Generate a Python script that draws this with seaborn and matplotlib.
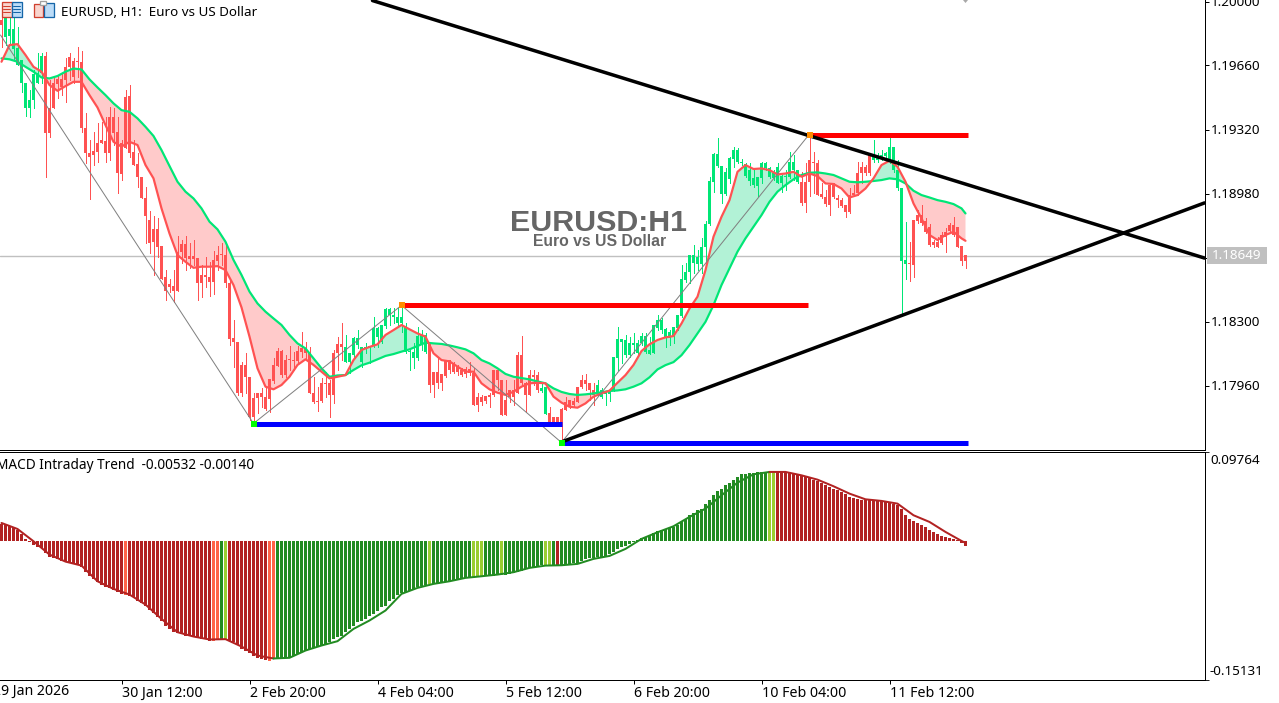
import numpy as np
import matplotlib
matplotlib.use("Agg")
import matplotlib.pyplot as plt
from matplotlib.patches import Rectangle, Polygon
import seaborn as sns

# ---------- data (price readings in points, 1 point = 0.00001) ----------
opens = [119898,119907,119849,119849,119747,119685,119560,119472,119610,119614,
119706,119706,119427,119560,119582,119582,119649,119699,119681,119676,
119676,119320,119187,119200,119244,119258,119253,119383,119383,119303,
119240,119489,119493,119196,119130,119063,118947,118832,118784,118784,
118693,118530,118491,118480,118663,118704,118704,118640,118640,118628,
118539,118539,118530,118619,118645,118651,118645,118494,118201,118183,
118059,118059,117996,117881,117907,117907,117890,117982,118059,118135,
118135,118085,118089,118085,118135,118147,118147,118121,117911,117867,
117961,117961,117961,118124,118169,118169,118156,118124,118201,118201,
118156,118153,118156,118254,118254,118272,118355,118355,118325,118316,
118313,118259,118133,118130,118213,118219,118219,118174,118023,118023,
118011,118085,118085,118064,118050,118032,118036,118036,118014,117886,
117886,117893,117899,118032,118032,117979,117872,117925,117925,118112,
118112,117961,118005,118005,118005,117934,117939,117801,117783,117783,
117822,117863,117872,117868,117943,117979,117979,117961,117925,117952,
117925,117916,117916,118103,118195,118195,118192,118174,118178,118174,
118213,118213,118139,118272,118299,118298,118248,118236,118263,118325,
118515,118556,118645,118645,118636,118689,118810,119041,119184,119184,
119120,119089,119160,119205,119205,119143,119130,119098,119054,119059,
119134,119134,119107,119080,119116,119066,119066,119143,119143,119098,
119036,119036,119152,119137,119137,118970,118956,119018,119018,118947,
118938,118912,118965,118974,119080,119112,119112,119178,119173,119160,
119178,119187,119219,119219,119098,119000,118618,118600,118832,118858,
118858,118828,118796,118716,118716,118752,118769,118805,118805,118792,118693,118645]
closes = [119872,119809,119813,119742,119658,119560,119427,119427,119472,119564,
119614,119294,119294,119427,119557,119543,119578,119649,119592,119674,
119320,119187,119169,119178,119196,119244,119187,119187,119294,119080,
119077,119214,119191,119125,119063,118947,118853,118711,118716,118690,
118516,118455,118476,118455,118455,118663,118628,118626,118622,118498,
118498,118530,118503,118501,118615,118645,118494,118195,118183,117911,
117907,117993,117783,117783,117881,117890,117822,117875,117975,118053,
118005,118005,118085,118080,118082,118130,118121,117911,117863,117863,
117867,117955,117899,117899,118124,118156,118076,118076,118112,118165,
118076,118142,118153,118160,118210,118183,118267,118325,118316,118281,
118281,118130,118130,118094,118094,118165,118130,117952,117952,117961,
117964,118000,118032,118023,118023,118005,118011,118014,117845,117845,
117863,117868,117890,117899,117979,117792,117792,117890,117890,117907,
117961,117899,117899,117993,117925,117922,117797,117756,117756,117756,
117756,117819,117836,117845,117863,117939,117957,117925,117899,117907,
117890,117904,117904,117922,118094,118183,118112,118112,118165,118121,
118174,118130,118117,118121,118254,118245,118209,118200,118209,118254,
118320,118512,118556,118600,118597,118597,118689,118810,119036,119120,
118970,118970,119048,119155,119143,119134,119066,119041,119018,119013,
119054,119107,119063,119054,119031,119031,119059,119063,119098,119036,
118920,118920,119036,119134,118965,118953,118917,118912,118953,118938,
118906,118876,118876,118965,118974,119080,119080,119080,119152,119152,
119166,119173,119143,119098,119000,118615,118597,118597,118592,118828,
118814,118769,118698,118698,118689,118707,118743,118775,118752,118689,118615,118615]
highs = [119916,119907,119907,119907,119863,119685,119560,119525,119632,119721,
119721,119729,119578,119587,119605,119614,119694,119724,119694,119753,
119735,119400,119258,119303,119347,119356,119383,119436,119427,119383,
119258,119525,119552,119258,119187,119063,119009,118882,118853,118841,
118693,118565,118516,118565,118747,118725,118747,118711,118725,118628,
118592,118633,118610,118668,118693,118711,118708,118512,118299,118183,
118076,118121,117996,117911,117911,117934,117934,117982,118094,118147,
118139,118112,118160,118130,118160,118236,118183,118156,117996,117943,
117987,118023,117979,118139,118210,118281,118219,118124,118210,118245,
118156,118174,118156,118316,118263,118272,118361,118361,118361,118361,
118370,118281,118139,118174,118263,118245,118227,118174,118023,118094,
118011,118085,118085,118076,118059,118041,118050,118076,118041,117907,
117899,117893,117907,118032,118032,117979,117979,117925,117979,118130,
118213,117970,118032,118032,118023,117970,117939,117836,117783,117783,
117827,117890,117872,117881,117943,118005,118011,117964,117961,117979,
117934,117916,117916,118103,118259,118195,118219,118210,118227,118192,
118227,118227,118210,118272,118325,118307,118254,118245,118263,118325,
118592,118600,118645,118698,118671,118734,118828,119063,119187,119267,
119120,119107,119169,119223,119214,119155,119134,119134,119098,119063,
119143,119143,119116,119098,119134,119072,119098,119196,119178,119098,
119089,119137,119285,119196,119152,119027,118992,119027,119027,118965,
118947,118912,119000,119018,119143,119143,119125,119187,119258,119187,
119205,119196,119276,119219,119152,119000,118823,118716,118832,118885,
118912,118840,118810,118725,118743,118769,118787,118814,118849,118792,118693,118645]
lows = [119756,119765,119765,119689,119658,119516,119386,119379,119427,119560,
119560,119063,119272,119427,119480,119498,119463,119578,119560,119596,
119303,119137,118942,119125,119143,119240,119143,119152,119232,118977,
119045,119214,119169,119125,119009,118947,118708,118654,118539,118636,
118516,118405,118450,118396,118455,118601,118565,118574,118592,118405,
118423,118476,118427,118437,118565,118592,118473,118165,118046,117899,
117893,117907,117765,117765,117801,117836,117819,117810,117961,118053,
117996,117996,118032,118032,118067,118103,118094,117911,117858,117815,
117863,117890,117783,117854,118032,118085,118076,118014,118103,118147,
118050,118121,118067,118156,118156,118174,118254,118272,118281,118263,
118236,118121,118032,118041,118085,118139,118121,117916,117890,117934,
117925,117996,118014,118014,118005,118000,117996,118005,117845,117815,
117845,117854,117833,117893,117925,117792,117792,117863,117845,117907,
117952,117810,117899,117952,117916,117916,117797,117756,117756,117756,
117641,117819,117827,117836,117863,117934,117925,117872,117845,117899,
117881,117845,117868,117922,118032,118067,118103,118103,118121,118112,
118165,118121,118117,118121,118245,118227,118156,118165,118174,118245,
118316,118503,118494,118547,118565,118547,118592,118805,118983,119116,
118920,118965,119027,119116,119134,119125,119063,119018,119009,118960,
119027,119098,119054,119045,119027,118983,118992,119054,119045,119027,
118912,118876,118960,118974,118965,118947,118906,118858,118947,118903,
118899,118849,118867,118965,118965,119027,119072,119072,119143,119143,
119152,119143,119134,119089,118992,118325,118515,118508,118529,118814,
118805,118760,118693,118689,118686,118704,118663,118769,118746,118689,118592,118577]

# moving averages, read every second bar
ma_bars = list(range(0, 241, 2)) + [241]
fast_ma = [119676,119765,119770,119712,119649,119623,119552,119521,119546,119569,
119569,119498,119432,119338,119249,119223,119249,119232,119125,119054,
118894,118760,118645,118609,118577,118583,118583,118586,118565,118485,
118366,118210,118041,117943,117929,117952,117996,118059,118089,118059,
118023,117987,117996,118005,118085,118139,118155,118169,118219,118245,
118272,118249,118227,118210,118121,118085,118078,118050,118023,118023,
117961,117929,117911,117899,117916,117943,117961,117964,117961,117890,
117858,117836,117831,117854,117890,117907,117922,117964,118005,118059,
118133,118169,118192,118206,118213,118280,118360,118423,118565,118743,
118849,118938,119089,119125,119104,119107,119098,119075,119080,119089,
119063,119080,119066,119027,119024,119000,118952,118965,119000,119054,
119125,119148,119116,119036,118920,118840,118752,118725,118752,118769,
118734,118721]
slow_ma = [119694,119689,119676,119649,119623,119592,119587,119600,119623,119640,
119635,119582,119539,119498,119454,119418,119409,119374,119329,119280,
119205,119120,119036,118983,118947,118894,118823,118782,118716,118619,
118539,118450,118387,118343,118307,118272,118219,118174,118147,118094,
118041,117996,118003,118005,118032,118057,118071,118089,118107,118117,
118130,118142,118160,118178,118174,118171,118163,118153,118142,118121,
118085,118067,118041,118011,117996,117989,117982,117971,117961,117934,
117915,117904,117899,117902,117907,117913,117920,117923,117929,117943,
117961,117993,118035,118058,118074,118111,118165,118227,118289,118378,
118485,118574,118663,118734,118796,118858,118929,118983,119018,119049,
119072,119084,119086,119080,119072,119054,119036,119033,119036,119040,
119045,119054,119049,119027,118988,118965,118952,118938,118929,118917,
118894,118867]

# bar index where the candle colour changes
trend_starts = [0, 1, 11, 86, 107, 135, 137, 149, 200, 218, 227]
trend_names = ["down", "up", "down", "up", "down", "up", "down", "up", "down", "up", "down"]

# objects on the chart: (bar, price)
zigzag_bars = [-0.25, 63, 100, 140, 202]
zigzag_prices = [1.19822, 1.17758, 1.18386, 1.17657, 1.19296]
falling_bars = [92.75, 300.75]
falling_prices = [1.20005, 1.18637]
rising_bars = [140, 300.75]
rising_prices = [1.17660, 1.18930]
resistance = [(100, 201.5, 1.18386), (202, 241.5, 1.19293)]
support = [(63, 140, 1.17758), (140, 241.5, 1.17657)]
pivot_highs = [(100, 1.18386), (202, 1.19293)]
pivot_lows = [(63, 1.17758), (140, 1.17657)]
last_price = 1.18649
price_ticks = [1.20000, 1.19660, 1.19320, 1.18980, 1.18640, 1.18300, 1.17960]
price_labels = ["1.20000", "1.19660", "1.19320", "1.18980", "", "1.18300", "1.17960"]
time_tick_bars = [30, 62, 94, 126, 158, 190, 222]
time_labels = ["30 Jan 12:00", "2 Feb 20:00", "4 Feb 04:00", "5 Feb 12:00",
               "6 Feb 20:00", "10 Feb 04:00", "11 Feb 12:00"]

# MACD histogram, one value per bar
macd_hist = [.0200,.0193,.0181,.0161,.0130,.0083,.0024,-.0012,-.0047,-.0075,
-.0083,-.0145,-.0185,-.0200,-.0212,-.0232,-.0252,-.0263,-.0263,-.0271,
-.0310,-.0369,-.0409,-.0448,-.0487,-.0515,-.0546,-.0554,-.0578,-.0605,
-.0625,-.0633,-.0645,-.0664,-.0703,-.0735,-.0762,-.0814,-.0853,-.0892,
-.0947,-.0998,-.1038,-.1077,-.1089,-.1104,-.1116,-.1124,-.1136,-.1144,
-.1155,-.1163,-.1175,-.1175,-.1167,-.1167,-.1163,-.1175,-.1195,-.1226,
-.1273,-.1293,-.1320,-.1352,-.1379,-.1391,-.1403,-.1411,-.1391,-.1379,
-.1379,-.1372,-.1364,-.1352,-.1332,-.1313,-.1285,-.1273,-.1262,-.1254,
-.1234,-.1214,-.1195,-.1155,-.1136,-.1116,-.1077,-.1038,-.0998,-.0959,
-.0939,-.0920,-.0880,-.0861,-.0821,-.0782,-.0762,-.0703,-.0684,-.0633,
-.0617,-.0605,-.0586,-.0566,-.0546,-.0527,-.0515,-.0507,-.0507,-.0499,
-.0495,-.0487,-.0479,-.0468,-.0460,-.0448,-.0436,-.0428,-.0421,-.0421,
-.0413,-.0413,-.0413,-.0409,-.0401,-.0397,-.0397,-.0389,-.0377,-.0362,
-.0350,-.0334,-.0318,-.0310,-.0295,-.0287,-.0283,-.0279,-.0279,-.0279,
-.0279,-.0271,-.0271,-.0263,-.0263,-.0240,-.0212,-.0200,-.0200,-.0193,
-.0185,-.0177,-.0153,-.0126,-.0094,-.0075,-.0055,-.0035,-.0016,.0012,
.0035,.0051,.0071,.0090,.0114,.0134,.0145,.0157,.0165,.0185,
.0228,.0263,.0303,.0330,.0362,.0381,.0440,.0479,.0538,.0586,
.0617,.0656,.0688,.0715,.0755,.0786,.0794,.0802,.0806,.0810,
.0810,.0814,.0814,.0814,.0814,.0814,.0810,.0802,.0794,.0786,
.0762,.0755,.0739,.0723,.0707,.0684,.0656,.0637,.0617,.0597,
.0578,.0550,.0519,.0507,.0499,.0487,.0479,.0479,.0472,.0472,
.0472,.0460,.0460,.0440,.0421,.0381,.0303,.0255,.0236,.0212,
.0185,.0165,.0134,.0106,.0079,.0055,.0047,.0039,.0028,.0008,-.0024,-.0058]
macd_line_bars = list(range(0, 241, 4)) + [241]
macd_line = [.0212,.0141,-.0004,-.0161,-.0244,-.0291,-.0476,-.0566,-.0633,-.0751,-.0920,
-.1077,-.1128,-.1163,-.1159,-.1246,-.1352,-.1387,-.1379,-.1293,-.1234,-.1183,-.1038,-.0939,
-.0821,-.0625,-.0554,-.0507,-.0476,-.0436,-.0417,-.0397,-.0369,-.0318,-.0291,-.0287,-.0271,
-.0212,-.0177,-.0094,.0024,.0102,.0173,.0283,.0381,.0538,.0688,.0786,.0814,.0814,
.0774,.0723,.0645,.0558,.0491,.0472,.0440,.0303,.0224,.0106,.0000,-.0024]
hist_starts = [0, 31, 32, 53, 55, 56, 57, 67, 69, 107, 108, 118, 121, 125, 126, 136, 138, 139, 140, 192, 194]
hist_states = ["weak_down", "fade_down", "weak_down", "fade_down", "up", "fade_up", "weak_down", "fade_down",
               "up", "fade_up", "up", "fade_up", "up", "fade_up", "up", "fade_up", "up", "weak_down", "up",
               "fade_up", "weak_down"]

# readings -> axis scale
def to_price(points):
    return 1.2 - (120000 - np.asarray(points, dtype=float)) * 0.99609e-5 + 2.66e-5

MACD_SCALE = 0.9254

# ---------- style ----------
sns.set_theme(style="white")
plt.rcParams["font.family"] = ["Noto Sans", "DejaVu Sans"]
W, H = 1279, 703
TXT = 9.7
TXT_X = 10.2
UP, DOWN = "#00E676", "#FF5252"
UP_FILL, DOWN_FILL = "#B2F2D6", "#FFCACA"
HIST = {"weak_down": "#B22222", "fade_down": "#FF6347", "up": "#228B22", "fade_up": "#9ACD32"}
PX = 0.72  # one pixel in points at 100 dpi

fig = plt.figure(figsize=(W / 100, H / 100), dpi=100, facecolor="white")
def frame(left, top, right, bottom):
    return fig.add_axes([left / W, 1 - bottom / H, (right - left) / W, (bottom - top) / H])

ax = frame(0, 0, 1204.5, 449.5)
ax2 = frame(0, 451.5, 1204.5, 679.5)
over = fig.add_axes([0, 0, 1, 1], facecolor="none")
over.set_xlim(0, W); over.set_ylim(H, 0); over.axis("off")

XLIM = (-0.375, 300.75)
ax.set_xlim(*XLIM); ax2.set_xlim(*XLIM)
ax.set_ylim(1.2 - 448 * 5.3125e-5, 1.2 + 1.5 * 5.3125e-5)
ax2.set_ylim(-0.15131, 0.09764)

bars = np.arange(len(opens))
o, c, h, l = map(to_price, (opens, closes, highs, lows))
ma_x = np.array(ma_bars)
fast = to_price(fast_ma)
slow = to_price(slow_ma)

# last price line
ax.axhline(last_price, color="#C0C0C0", lw=1.4 * PX, zorder=1)

# ribbon between the averages
ax.fill_between(ma_x, fast, slow, where=fast >= slow, interpolate=True, color=UP_FILL, lw=0, zorder=2)
ax.fill_between(ma_x, fast, slow, where=fast < slow, interpolate=True, color=DOWN_FILL, lw=0, zorder=2)

# candles coloured by trend
trend = np.empty(len(bars), dtype=object)
for s, name in zip(trend_starts, trend_names):
    trend[s:] = name
candle_colors = [UP if t == "up" else DOWN for t in trend]
ax.vlines(bars, l, h, colors=candle_colors, lw=1 * PX, zorder=3, antialiased=False)
body_low = np.minimum(o, c)
body_high = np.maximum(o, c)
ax.bar(bars, np.maximum(body_high - body_low, 5.4e-5), bottom=body_low, width=0.8,
       color=candle_colors, lw=0, zorder=3, antialiased=False)

# averages
sns.lineplot(x=ma_x, y=slow, ax=ax, color=UP, lw=2.2 * PX, zorder=4, errorbar=None, legend=False)
sns.lineplot(x=ma_x, y=fast, ax=ax, color=DOWN, lw=2.2 * PX, zorder=5, errorbar=None, legend=False)

# zigzag, levels, trend lines
sns.lineplot(x=zigzag_bars, y=zigzag_prices, ax=ax, color="#808080", lw=1 * PX, zorder=6,
             sort=False, errorbar=None, legend=False)
for a, b, p in resistance:
    ax.hlines(p, a, b, color="#FF0000", lw=5 * PX, zorder=7, capstyle="butt")
for a, b, p in support:
    ax.hlines(p, a, b, color="#0000FF", lw=5 * PX, zorder=7, capstyle="butt")
for xs, ys in ((falling_bars, falling_prices), (rising_bars, rising_prices)):
    sns.lineplot(x=xs, y=ys, ax=ax, color="black", lw=3.5 * PX, zorder=8, errorbar=None, legend=False)
ax.scatter(*zip(*pivot_highs), s=14, marker="s", color="#FF8C00", lw=0, zorder=9)
ax.scatter(*zip(*pivot_lows), s=14, marker="s", color="#00FF00", lw=0, zorder=9)

# MACD pane
state = np.empty(len(bars), dtype=object)
for s, name in zip(hist_starts, hist_states):
    state[s:] = name
hist_vals = np.array(macd_hist) * MACD_SCALE
line_vals = np.array(macd_line) * MACD_SCALE
line_x = np.array(macd_line_bars)
ax2.bar(bars, hist_vals, width=0.8, color=[HIST[s] for s in state], lw=0, zorder=2, antialiased=False)
for a, b, col in ((0, 68, HIST["weak_down"]), (68, 192, HIST["up"]), (192, 241, HIST["weak_down"])):
    mask = (line_x >= a) & (line_x <= b)
    sns.lineplot(x=line_x[mask], y=line_vals[mask], ax=ax2, color=col, lw=2 * PX, zorder=3,
                 errorbar=None, legend=False)

# axes, ticks
for a in (ax, ax2):
    a.grid(False)
    a.set_xlabel(""); a.set_ylabel("")
    a.patch.set_facecolor("white")
    a.spines["left"].set_visible(False)
    a.spines["right"].set_color("black"); a.spines["right"].set_linewidth(PX)
    a.spines["bottom"].set_color("black"); a.spines["bottom"].set_linewidth(PX)
    a.yaxis.tick_right()
ax.spines["top"].set_visible(False)
ax2.spines["top"].set_color("black"); ax2.spines["top"].set_linewidth(PX)
ax.set_xticks([])
ax.set_yticks(price_ticks, price_labels)
ax.tick_params(axis="y", right=True, length=3.2, width=PX, pad=1.2, labelsize=TXT, colors="black")
ax2.set_yticks([0.09764, -0.15131], ["", ""])
ax2.tick_params(axis="y", right=True, length=3.2, width=PX)
ax2.set_xticks(time_tick_bars, time_labels, ha="left")
ax2.tick_params(axis="x", bottom=True, length=3.2, width=PX, pad=1.2, labelsize=TXT_X, colors="black")
for t in ax2.get_xticklabels():
    t.set_horizontalalignment("left")

# texts at fixed places
label = dict(color="black", va="center", ha="left")
over.text(-7, 691, "29 Jan 2026", fontsize=TXT_X, **label)
over.text(1210, 460, "0.09764", fontsize=TXT, **label)
over.text(1210, 671.5, "-0.15131", fontsize=TXT, **label)
over.text(61, 12.5, "EURUSD, H1:  Euro vs US Dollar", fontsize=TXT, **label)
over.text(-4, 465.5, "MACD Intraday Trend  -0.00532 -0.00140", fontsize=9.8, **label)
over.text(598.5, 223, "EURUSD:H1", fontsize=21.9, family="Liberation Sans", weight="bold",
          color="#666666", ha="center", va="center")
over.text(599.5, 242, "Euro vs US Dollar", fontsize=11.3, family="Liberation Sans", weight="bold",
          color="#666666", ha="center", va="center")

# last price box
over.add_patch(Rectangle((1207, 247), 59.5, 17, fc="#C0C0C0", ec="none"))
over.text(1237, 255.7, "1.18649", fontsize=TXT, color="white", va="center", ha="center")

# toolbar icons and top marker
def icon(x, y, w, h, fc, ec):
    over.add_patch(Rectangle((x, y), w, h, fc=fc, ec=ec, lw=1.3 * PX))
icon(1.5, 1.5, 10, 15, "#F9D5CE", "#D0402E")
icon(11.5, 1.5, 10, 15, "#BBDCF8", "#1565A8")
for yy in (6, 9, 12):
    over.plot([3, 10], [yy, yy], color="#D0402E", lw=PX)
    over.plot([13, 20], [yy, yy], color="#1565A8", lw=PX)
icon(33.5, 3.5, 9, 13, "#F9D5CE", "#D0402E")
icon(43.5, 2.5, 10, 14, "#BBDCF8", "#1565A8")
icon(40, 1, 6, 4, "white", "#A0A0A0")
over.add_patch(Polygon([(963, 0), (968, 0), (965.5, 3)], fc="#A8A8A8", ec="none"))

fig.savefig("out.png", dpi=100, facecolor="white")
